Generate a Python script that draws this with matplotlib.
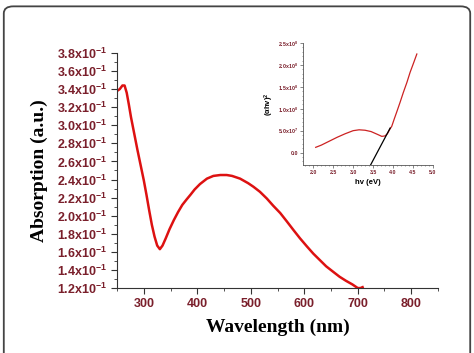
import numpy as np
import matplotlib.pyplot as plt
from matplotlib.patches import FancyBboxPatch
from matplotlib.ticker import MultipleLocator, FixedLocator, FuncFormatter

plt.rcParams['mathtext.fontset'] = 'custom'
plt.rcParams['mathtext.rm'] = 'Liberation Sans:bold'
plt.rcParams['mathtext.it'] = 'Liberation Sans:bold'
plt.rcParams['mathtext.bf'] = 'Liberation Sans:bold'

# main UV-vis spectrum
wavelength = [250, 255, 260, 264, 268, 272, 276, 282, 288, 294, 300, 305, 310, 315,
              320, 325, 330, 335, 341, 348, 356, 364, 372, 380, 387, 395, 405, 418,
              430, 443, 455, 465, 480, 495, 505, 517, 530, 542, 555, 567, 580, 592,
              605, 617, 629, 641, 654, 666, 678, 690, 700, 705, 709]
absorption = [0.338, 0.340, 0.344, 0.344, 0.336, 0.323, 0.309, 0.291, 0.273, 0.256,
              0.239, 0.223, 0.206, 0.190, 0.177, 0.167, 0.163, 0.167, 0.175, 0.185,
              0.195, 0.204, 0.212, 0.218, 0.223, 0.229, 0.235, 0.241, 0.244, 0.245,
              0.245, 0.244, 0.241, 0.236, 0.232, 0.2265, 0.219, 0.211, 0.203, 0.194,
              0.184, 0.175, 0.166, 0.158, 0.151, 0.144, 0.138, 0.1325, 0.128, 0.124,
              0.120, 0.120, 0.121]

# Tauc plot inset, (ahv)^2 in units of 1e8
energy = [2.06, 2.2, 2.4, 2.6, 2.8, 3.0, 3.15, 3.3, 3.45, 3.6, 3.72, 3.8, 3.86, 3.92,
          3.97, 4.03, 4.10, 4.18, 4.26, 4.35, 4.43, 4.52, 4.60]
tauc = [0.12, 0.17, 0.26, 0.35, 0.43, 0.50, 0.52, 0.51, 0.48, 0.42, 0.37, 0.38, 0.43,
        0.53, 0.60, 0.76, 0.94, 1.15, 1.37, 1.60, 1.83, 2.05, 2.25]
fit_energy = [3.44, 3.93]
fit_tauc = [-0.28, 0.56]

tick_red = '#7a1f2b'

fig = plt.figure(figsize=(4.74, 3.53), dpi=100)

# rounded frame round the figure
frame = FancyBboxPatch((0.008, -0.05), 0.984, 1.032, boxstyle='round,pad=0,rounding_size=0.02',
                       transform=fig.transFigure, facecolor='none', edgecolor='#444444',
                       linewidth=1.3)
fig.patches.append(frame)

ax = fig.add_axes([0.247, 0.184, 0.677, 0.666])
ax.plot(wavelength, absorption, color='#dd1111', lw=1.8)
ax.set_xlim(250, 850)
ax.set_ylim(0.12, 0.38)
ax.xaxis.set_major_locator(FixedLocator([300, 400, 500, 600, 700, 800]))
ax.xaxis.set_minor_locator(MultipleLocator(50))
ax.yaxis.set_major_locator(FixedLocator(np.arange(0.12, 0.381, 0.02)))
ax.yaxis.set_minor_locator(MultipleLocator(0.01))
ax.yaxis.set_major_formatter(FuncFormatter(lambda v, p: '%.1fx10$^{\\mathrm{-1}}$' % (v * 10)))
for s in ['top', 'right']:
    ax.spines[s].set_visible(False)
for s in ['left', 'bottom']:
    ax.spines[s].set_color('#333333')
ax.tick_params(which='major', length=4, width=0.8, color='#333333')
ax.tick_params(which='minor', length=2, width=0.6, color='#333333')
for lab in ax.get_xticklabels() + ax.get_yticklabels():
    lab.set_fontfamily('Liberation Sans')
    lab.set_fontweight('bold')
    lab.set_fontsize(9)
    lab.set_color(tick_red)
ax.set_xlabel('Wavelength (nm)', family='Liberation Serif', fontweight='bold', fontsize=14, labelpad=6)
ax.set_ylabel('Absorption (a.u.)', family='Liberation Serif', fontweight='bold', fontsize=14, labelpad=6)

# inset
ins = fig.add_axes([0.640, 0.533, 0.273, 0.345])
ins.plot(energy, tauc, color='#cc2222', lw=0.9)
ins.plot(fit_energy, fit_tauc, color='black', lw=0.9)
ins.set_xlim(1.75, 5.0)
ins.set_ylim(-0.28, 2.5)
ins.xaxis.set_major_locator(MultipleLocator(0.5))
ins.xaxis.set_minor_locator(MultipleLocator(0.1))
ins.yaxis.set_major_locator(MultipleLocator(0.5))
ins.yaxis.set_minor_locator(MultipleLocator(0.1))
ylabs = {0.0: '0.0', 0.5: '5.0x10$^{7}$'}
ins.yaxis.set_major_formatter(FuncFormatter(
    lambda v, p: ylabs.get(round(v, 1), '%.1fx10$^{8}$' % v)))
ins.xaxis.set_major_formatter(FuncFormatter(lambda v, p: '%.1f' % v))
for s in ['top', 'right']:
    ins.spines[s].set_visible(False)
for s in ['left', 'bottom']:
    ins.spines[s].set_color('#555555')
    ins.spines[s].set_linewidth(0.6)
ins.tick_params(which='major', length=2, width=0.5, color='#555555', pad=1.5)
ins.tick_params(which='minor', length=1, width=0.4, color='#555555')
for lab in ins.get_xticklabels() + ins.get_yticklabels():
    lab.set_fontfamily('Liberation Sans')
    lab.set_fontweight('bold')
    lab.set_fontsize(3.8)
    lab.set_color(tick_red)
ins.set_xlabel('hv (eV)', family='Liberation Sans', fontweight='bold', fontsize=5.5, labelpad=3)
ins.set_ylabel('(αhv)$^2$', family='Liberation Sans', fontweight='bold', fontsize=5.5, labelpad=2)
ins.patch.set_alpha(0)

fig.savefig('out.png', dpi=100)
